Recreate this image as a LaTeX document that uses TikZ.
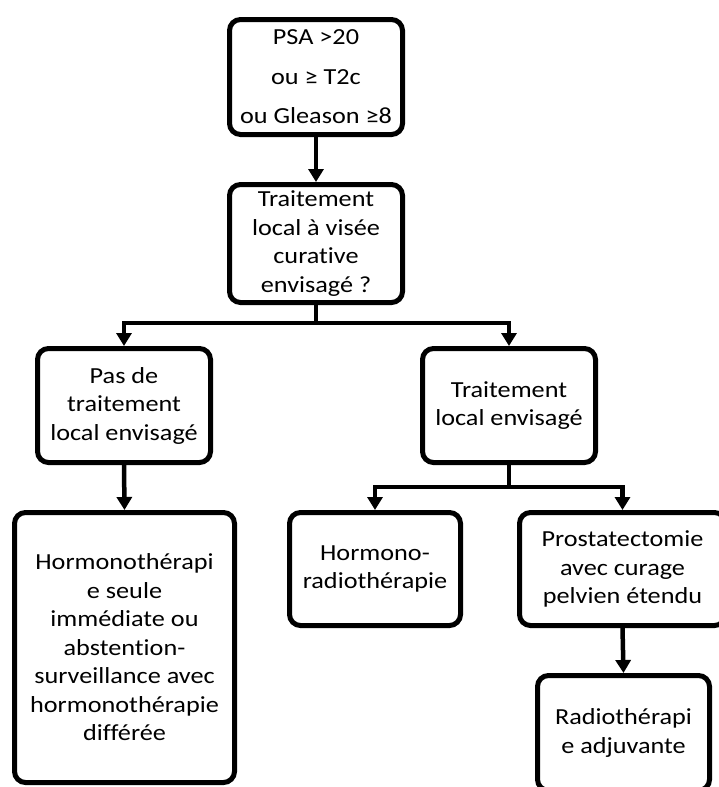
\documentclass[tikz,border=0pt]{standalone}
\usepackage{fontspec}
\setmainfont{Carlito}[FakeStretch=1.14, Ligatures=NoCommon]
\usetikzlibrary{arrows.meta}
\tikzset{
  box/.style={draw=black, line width=5pt, rounded corners=11pt, fill=white,
    align=center, inner sep=2pt, font=\fontsize{23}{28.5}\selectfont},
  conn/.style={line width=4.5pt, -{Triangle[width=15pt,length=13pt]}},
  plain/.style={line width=4.5pt}
}
\begin{document}
\begin{tikzpicture}[x=1pt,y=1pt]
\useasboundingbox (0,0) rectangle (718,-787);
\node[box, minimum width=173pt, minimum height=115pt] (b1) at (316,-77)
  {PSA >20\\[11pt]ou ≥ T2c\\[11pt]ou Gleason ≥8};
\node[box, minimum width=173pt, minimum height=118pt] (b2) at (316,-243.5)
  {Traitement\\local à visée\\curative\\envisagé ?};
\node[box, minimum width=173pt, minimum height=114pt] (b3) at (124,-405.5)
  {Pas de\\traitement\\local envisagé};
\node[box, minimum width=173pt, minimum height=114pt] (b4) at (509,-405.5)
  {Traitement\\local envisagé};
\node[box, minimum width=220pt, minimum height=270pt] (b5) at (124.5,-647.5)
  {Hormonothérapi\\e seule\\immédiate ou\\abstention-\\surveillance avec\\hormonothérapie\\différée};
\node[box, minimum width=171pt, minimum height=113pt] (b6) at (375,-569)
  {Hormono-\\radiothérapie};
\node[box, minimum width=206pt, minimum height=113pt] (b7) at (622.5,-569)
  {Prostatectomie\\avec curage\\pelvien étendu};
\node[box, minimum width=172pt, minimum height=115pt] (b8) at (623.5,-733)
  {Radiothérapi\\e adjuvante};
\coordinate (s1) at (316,-323);
\coordinate (s2) at (509,-487);
\draw[conn] (b1.south) -- (b2.north);
\draw[plain] (b2.south) -- (s1);
\draw[conn] (s1) -| (b3.north);
\draw[conn] (s1) -| (b4.north);
\draw[conn] (b3.south) -- (b5.north);
\draw[plain] (b4.south) -- (s2);
\draw[conn] (s2) -| (b6.north);
\draw[conn] (s2) -| (b7.north);
\draw[conn] (b7.south) -- (b8.north);
\end{tikzpicture}
\end{document}
